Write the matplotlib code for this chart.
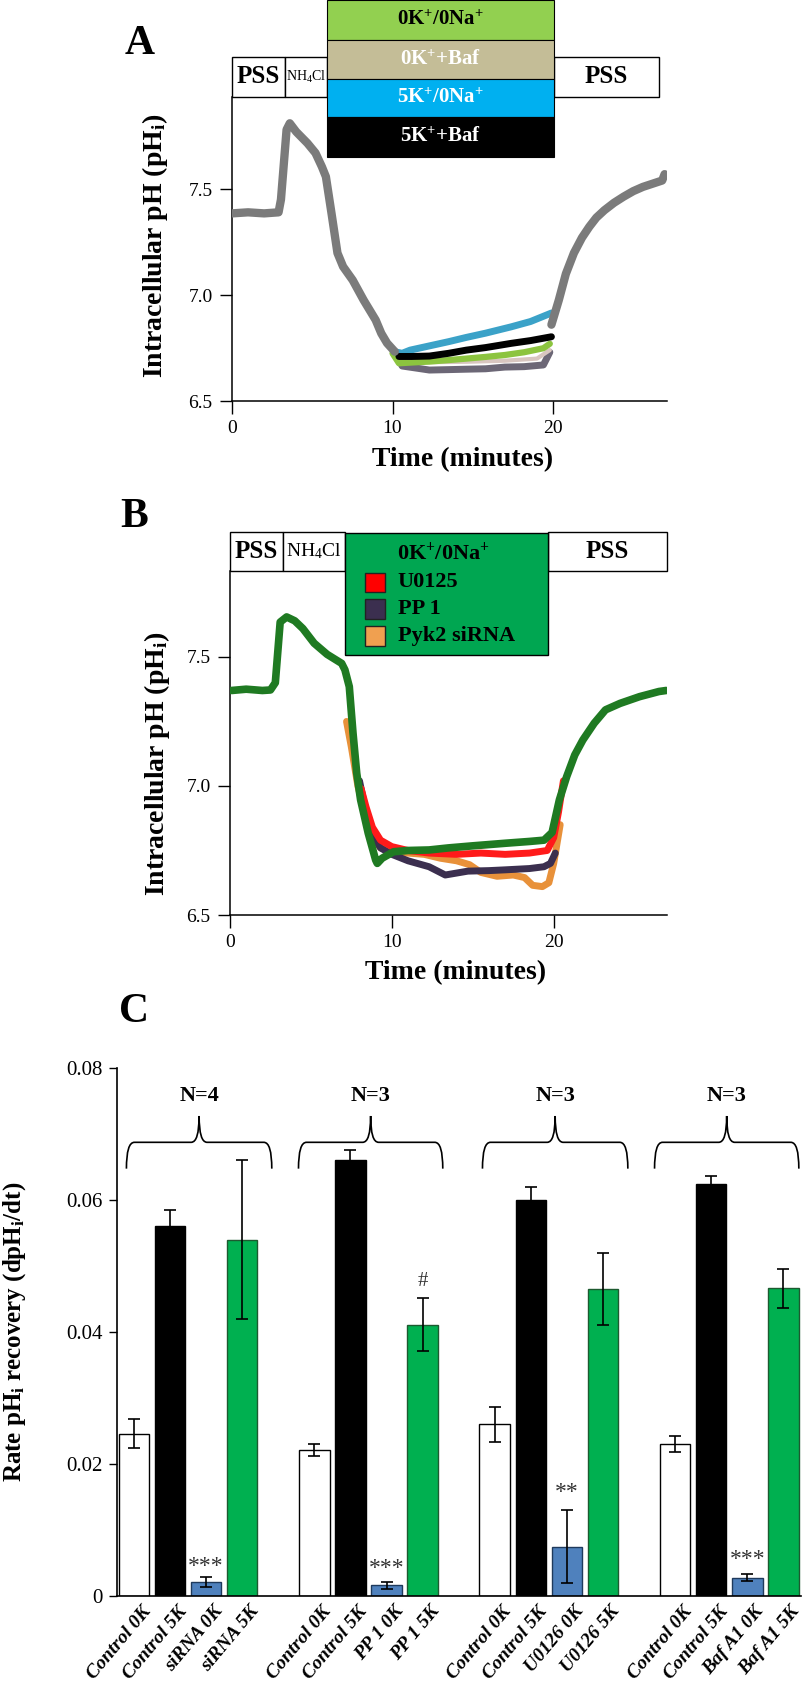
import matplotlib
matplotlib.use('Agg')
import matplotlib.pyplot as plt
import matplotlib.transforms as mtrans
from matplotlib.patches import Rectangle, PathPatch
from matplotlib.path import Path

plt.rcParams['font.family'] = ['Liberation Serif', 'DejaVu Serif']
plt.rcParams['mathtext.fontset'] = 'custom'
plt.rcParams['mathtext.rm'] = 'Liberation Serif'
plt.rcParams['mathtext.it'] = 'Liberation Serif:italic'
plt.rcParams['mathtext.bf'] = 'Liberation Serif:bold'

# ---------------- Panel A data (time in min, pHi) ----------------
tA_common = [0.0, 1.0, 2.0, 2.9, 3.05, 3.4, 3.6, 4.0, 4.7, 5.2, 5.6, 5.85, 6.2, 6.57, 6.92, 7.52, 8.2, 8.95, 9.3, 9.66, 10.14]
pHA_common = [7.385, 7.39, 7.385, 7.39, 7.45, 7.78, 7.81, 7.77, 7.716, 7.67, 7.605, 7.558, 7.385, 7.198, 7.134, 7.07, 6.976, 6.882, 6.819, 6.773, 6.733]
tA_recov = [19.9, 20.36, 20.8, 21.3, 21.8, 22.26, 22.7, 23.2, 23.8, 24.4, 25.0, 25.6, 26.2, 26.8, 26.95]
pHA_recov = [6.86, 6.976, 7.10, 7.198, 7.27, 7.322, 7.365, 7.40, 7.435, 7.464, 7.49, 7.51, 7.525, 7.54, 7.57]
tA_low = [10.14, 10.6, 11.5, 12.3, 13.5, 14.6, 15.8, 17.0, 18.2, 19.4, 19.8]
pHA_low = [6.733, 6.665, 6.655, 6.646, 6.648, 6.65, 6.652, 6.66, 6.662, 6.67, 6.73]
tA_green = [10.0, 10.4, 11.3, 12.3, 13.5, 14.6, 15.8, 17.0, 18.2, 19.4, 19.8]
pHA_green = [6.725, 6.678, 6.682, 6.686, 6.693, 6.70, 6.708, 6.717, 6.73, 6.749, 6.77]
tA_tan = [10.3, 11.0, 12.3, 14.6, 17.0, 19.0, 19.8]
pHA_tan = [6.69, 6.685, 6.683, 6.685, 6.69, 6.70, 6.74]
tA_black = [10.4, 11.2, 12.3, 13.5, 14.6, 15.8, 17.4, 18.6, 19.9]
pHA_black = [6.71, 6.71, 6.712, 6.725, 6.74, 6.752, 6.772, 6.785, 6.803]
tA_blue = [10.1, 10.6, 11.1, 12.3, 13.5, 14.6, 15.8, 17.4, 18.6, 19.9]
pHA_blue = [6.733, 6.725, 6.74, 6.76, 6.78, 6.80, 6.82, 6.85, 6.875, 6.915]

protoA_edges = [0.0, 3.3, 5.92, 20.06, 26.6]
protoA_labels = ['PSS', 'NH$_4$Cl', '', 'PSS']
stackA_labels = ['0K$^{\\mathbf{+}}$/0Na$^{\\mathbf{+}}$', '0K$^{\\mathbf{+}}$+Baf',
                 '5K$^{\\mathbf{+}}$/0Na$^{\\mathbf{+}}$', '5K$^{\\mathbf{+}}$+Baf']
stackA_colors = ['#92d050', '#c4bd97', '#00b0f0', '#000000']
stackA_text = ['black', 'white', 'white', 'white']

# ---------------- Panel B data ----------------
tB_green = [0.1, 1.0, 2.0, 2.5, 2.8, 3.1, 3.5, 4.0, 4.5, 5.2, 6.0, 6.9, 7.1, 7.37, 7.6, 7.83, 8.07, 8.54, 9.0, 9.1, 9.4, 10.1, 11.0, 12.3, 13.5, 15.0, 17.0, 18.5, 19.4, 19.9, 20.35, 20.8, 21.3, 21.8, 22.5, 23.2, 24.1, 25.3, 26.5, 26.95]
pHB_green = [7.37, 7.375, 7.37, 7.372, 7.40, 7.635, 7.655, 7.64, 7.61, 7.553, 7.51, 7.475, 7.45, 7.385, 7.205, 7.049, 6.946, 6.817, 6.713, 6.70, 6.72, 6.745, 6.75, 6.752, 6.76, 6.768, 6.778, 6.785, 6.79, 6.82, 6.946, 7.036, 7.12, 7.178, 7.243, 7.295, 7.32, 7.346, 7.366, 7.37]
tB_red = [8.1, 8.4, 8.8, 9.3, 10.0, 11.0, 12.3, 14.0, 15.5, 17.0, 18.5, 19.6, 20.0, 20.3, 20.6]
pHB_red = [6.99, 6.92, 6.84, 6.79, 6.765, 6.75, 6.74, 6.735, 6.74, 6.735, 6.74, 6.75, 6.80, 6.90, 7.02]
tB_pp1 = [8.0, 8.4, 8.8, 9.3, 10.0, 11.0, 12.3, 13.3, 14.7, 16.0, 17.0, 18.5, 19.4, 19.8, 20.1]
pHB_pp1 = [7.02, 6.90, 6.81, 6.76, 6.735, 6.71, 6.687, 6.655, 6.67, 6.672, 6.675, 6.68, 6.687, 6.70, 6.74]
tB_pyk2 = [7.2, 7.5, 7.9, 8.3, 8.8, 9.3, 10.2, 11.0, 12.0, 13.0, 14.0, 14.8, 15.5, 16.5, 17.5, 18.2, 18.7, 19.3, 19.7, 20.0, 20.4]
pHB_pyk2 = [7.25, 7.15, 7.00, 6.90, 6.80, 6.76, 6.745, 6.74, 6.735, 6.72, 6.71, 6.695, 6.665, 6.65, 6.655, 6.645, 6.615, 6.61, 6.625, 6.70, 6.85]

protoB_edges = [0.0, 3.27, 7.1, 19.63, 27.0]
protoB_labels = ['PSS', 'NH$_4$Cl', '', 'PSS']
legB_title = '0K$^{\\mathbf{+}}$/0Na$^{\\mathbf{+}}$'
legB_labels = ['U0125', 'PP 1', 'Pyk2 siRNA']
legB_colors = ['#ff0000', '#3b2f4f', '#f0a050']

# ---------------- Panel C data ----------------
rate_labels = ['Control 0K', 'Control 5K', 'siRNA 0K', 'siRNA 5K',
               'Control 0K', 'Control 5K', 'PP 1 0K', 'PP 1 5K',
               'Control 0K', 'Control 5K', 'U0126 0K', 'U0126 5K',
               'Control 0K', 'Control 5K', 'Baf A1 0K', 'Baf A1 5K']
rate_values = [0.0246, 0.0561, 0.0021, 0.0540,
               0.0221, 0.0660, 0.0016, 0.0411,
               0.0260, 0.0600, 0.0075, 0.0465,
               0.0230, 0.0624, 0.0028, 0.0466]
rate_err = [0.0022, 0.0024, 0.0008, 0.0120,
            0.0009, 0.0015, 0.0005, 0.0040,
            0.0026, 0.0019, 0.0055, 0.0055,
            0.0012, 0.0013, 0.0005, 0.0030]
group_N = ['N=4', 'N=3', 'N=3', 'N=3']
sig_labels = ['***', '***', '**', '***']
sig_values = [0.0044, 0.0041, 0.0157, 0.0056]
hash_value = 0.0476

# ---------------- Figure ----------------
W, H = 802, 1689
fig = plt.figure(figsize=(W / 100, H / 100), dpi=100)


def rect(l, t, r, b):
    return [l / W, 1 - b / H, (r - l) / W, (b - t) / H]


def style_trace_axes(ax, xmax, ymax):
    ax.set_xlim(0, xmax)
    ax.set_ylim(6.5, ymax)
    for s in ['top', 'right']:
        ax.spines[s].set_visible(False)
    for s in ['left', 'bottom']:
        ax.spines[s].set_linewidth(1.1)
    ax.set_xticks([0, 10, 20])
    ax.set_yticks([6.5, 7.0, 7.5])
    ax.set_yticklabels(['6.5', '7.0', '7.5'])
    ax.tick_params(direction='out', length=9, width=1.0, labelsize=14, pad=5)
    ax.set_xlabel('Time (minutes)', fontsize=20, fontweight='bold')
    ax.set_ylabel('Intracellular pH (pH$_{\\mathbf{i}}$)', fontsize=20, fontweight='bold')


def add_box(ax, tr, x0, x1, y0, y1, fc, lw=1.0, z=6):
    ax.add_patch(Rectangle((x0, y0), x1 - x0, y1 - y0, transform=tr, facecolor=fc,
                           edgecolor='black', lw=lw, clip_on=False, zorder=z))


# ---- Panel A ----
axA = fig.add_axes(rect(232, 97, 667, 401))
style_trace_axes(axA, 27.1, 7.934)
axA.xaxis.set_label_coords(0.529, -0.151)
axA.yaxis.set_label_coords(-0.142, 0.51)
kw = dict(solid_joinstyle='round', solid_capstyle='round')
axA.plot(tA_common, pHA_common, color='#7b7b7b', lw=6, zorder=3, **kw)
axA.plot(tA_recov, pHA_recov, color='#7b7b7b', lw=6, zorder=3, **kw)
axA.plot(tA_low, pHA_low, color='#6c6776', lw=5, zorder=2, **kw)
axA.plot(tA_tan, pHA_tan, color='#d8c6c0', lw=3, zorder=2, **kw)
axA.plot(tA_green, pHA_green, color='#8cc43f', lw=4.5, zorder=2, **kw)
axA.plot(tA_blue, pHA_blue, color='#3ba2c8', lw=5, zorder=2, **kw)
axA.plot(tA_black, pHA_black, color='black', lw=5, zorder=2, **kw)

trA = mtrans.blended_transform_factory(axA.transData, axA.transAxes)
psA = (1.0, 1.1316)
for i, lab in enumerate(protoA_labels):
    if lab == '':
        continue
    add_box(axA, trA, protoA_edges[i], protoA_edges[i + 1], psA[0], psA[1], 'white')
    xc = (protoA_edges[i] + protoA_edges[i + 1]) / 2
    if lab == 'PSS':
        axA.text(xc, 1.066, lab, transform=trA, ha='center', va='center', fontsize=18,
                 fontweight='bold', zorder=7)
    else:
        axA.text(xc, 1.066, lab, transform=trA, ha='center', va='center', fontsize=10, zorder=7)
stack_bounds = [1.319, 1.1875, 1.059, 0.934, 0.803]
for k in range(4):
    add_box(axA, trA, protoA_edges[2], protoA_edges[3], stack_bounds[k + 1], stack_bounds[k],
            stackA_colors[k], lw=0.8)
    axA.text((protoA_edges[2] + protoA_edges[3]) / 2, (stack_bounds[k] + stack_bounds[k + 1]) / 2,
             stackA_labels[k], transform=trA, ha='center', va='center', fontsize=15,
             fontweight='bold', color=stackA_text[k], zorder=7)

# ---- Panel B ----
axB = fig.add_axes(rect(230, 571, 667, 915))
style_trace_axes(axB, 27.0, 7.833)
axB.xaxis.set_label_coords(0.517, -0.131)
axB.yaxis.set_label_coords(-0.133, 0.44)
axB.plot(tB_pyk2, pHB_pyk2, color='#e8913a', lw=5, zorder=2, **kw)
axB.plot(tB_pp1, pHB_pp1, color='#3b2f4f', lw=5, zorder=3, **kw)
axB.plot(tB_red, pHB_red, color='#ff1a1a', lw=5, zorder=3, **kw)
axB.plot(tB_green, pHB_green, color='#1f7a22', lw=5.5, zorder=4, **kw)

trB = mtrans.blended_transform_factory(axB.transData, axB.transAxes)
for i, lab in enumerate(protoB_labels):
    if lab == '':
        continue
    add_box(axB, trB, protoB_edges[i], protoB_edges[i + 1], 1.0, 1.113, 'white')
    xc = (protoB_edges[i] + protoB_edges[i + 1]) / 2
    if lab == 'PSS':
        axB.text(xc, 1.057, lab, transform=trB, ha='center', va='center', fontsize=18,
                 fontweight='bold', zorder=7)
    else:
        axB.text(xc, 1.057, lab, transform=trB, ha='center', va='center', fontsize=14, zorder=7)
add_box(axB, trB, protoB_edges[2], protoB_edges[3], 0.756, 1.110, '#00a651')
axB.text(13.2, 1.052, legB_title, transform=trB, ha='center', va='center', fontsize=16,
         fontweight='bold', zorder=7)
rowsB = [0.9666, 0.890, 0.811]
for lab, col, yr in zip(legB_labels, legB_colors, rowsB):
    axB.add_patch(Rectangle((8.36, yr - 0.029), 1.24, 0.058, transform=trB, facecolor=col,
                            edgecolor='#222222', lw=1.0, clip_on=False, zorder=7))
    axB.text(10.37, yr, lab, transform=trB, ha='left', va='center', fontsize=16,
             fontweight='bold', zorder=7)

# ---- Panel C ----
axC = fig.add_axes(rect(117, 1068, 801, 1596))
pos = [g * 5 + i for g in range(4) for i in range(4)]
fills = ['white', 'black', '#4f81bd', '#00b050'] * 4
edges = ['black', 'black', '#1f3a5c', '#1d5a30'] * 4
axC.bar(pos, rate_values, width=0.846, color=fills, edgecolor=edges, linewidth=1.0, zorder=2)
axC.errorbar(pos, rate_values, yerr=rate_err, fmt='none', ecolor='black', elinewidth=1.2,
             capsize=4.5, capthick=1.2, zorder=3)
axC.set_xlim(-0.471, 18.49)
axC.set_ylim(0, 0.08)
for s in ['top', 'right']:
    axC.spines[s].set_visible(False)
for s in ['left', 'bottom']:
    axC.spines[s].set_linewidth(1.2)
axC.set_yticks([0, 0.02, 0.04, 0.06, 0.08])
axC.set_yticklabels(['0', '0.02', '0.04', '0.06', '0.08'])
axC.tick_params(axis='y', direction='out', length=6, width=1.0, labelsize=15, pad=4)
axC.set_xticks(pos)
axC.set_xticklabels(rate_labels, rotation=50, ha='right', va='top', rotation_mode='anchor',
                    fontsize=14, fontweight='bold', fontstyle='italic')
axC.tick_params(axis='x', length=0, pad=5)
offs = mtrans.ScaledTranslation(0.07, 0, fig.dpi_scale_trans)
for lab in axC.get_xticklabels():
    lab.set_transform(lab.get_transform() + offs)
axC.set_ylabel('Rate pH$_{\\mathbf{i}}$ recovery (dpH$_{\\mathbf{i}}$/dt)', fontsize=18,
               fontweight='bold')
axC.yaxis.set_label_coords(-0.13, 0.5)

# braces and N labels
brace_left = [-0.21, 4.56, 9.66, 14.43]
brace_right = [3.82, 8.56, 13.69, 18.43]
yb, yh, yt = 0.06475, 0.06874, 0.07273
for g in range(4):
    x0, x1 = brace_left[g], brace_right[g]
    xt = (x0 + x1) / 2
    d = 0.22
    verts = [(x0, yb), (x0, yh), (x0 + d, yh), (xt - d, yh), (xt, yh), (xt, yt),
             (xt, yh), (xt + d, yh), (x1 - d, yh), (x1, yh), (x1, yb)]
    codes = [Path.MOVETO, Path.CURVE3, Path.CURVE3, Path.LINETO, Path.CURVE3, Path.CURVE3,
             Path.CURVE3, Path.CURVE3, Path.LINETO, Path.CURVE3, Path.CURVE3]
    axC.add_patch(PathPatch(Path(verts, codes), facecolor='none', edgecolor='black', lw=1.2,
                            clip_on=False))
    axC.text(xt, 0.0758, group_N[g], ha='center', va='center', fontsize=16, fontweight='bold')

for g in range(4):
    axC.text(g * 5 + 2, sig_values[g], sig_labels[g], ha='center', va='center', fontsize=17,
             color='#333333')
axC.text(8, hash_value, '#', ha='center', va='center', fontsize=15, color='#333333')

# panel letters
for letter, (px, py) in zip(['A', 'B', 'C'], [(140, 44), (134, 517), (134, 1012)]):
    fig.text(px / W, 1 - py / H, letter, ha='center', va='center', fontsize=30,
             fontweight='bold')

fig.savefig('out.png', dpi=100)
